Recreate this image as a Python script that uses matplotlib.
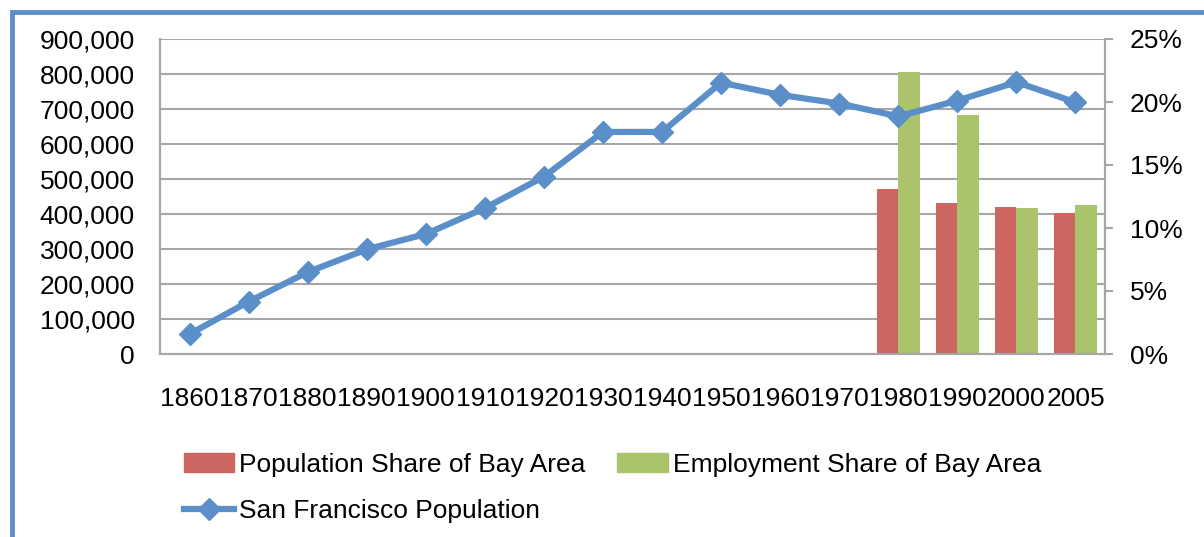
import matplotlib.pyplot as plt
from matplotlib.patches import Patch, Rectangle
from matplotlib.lines import Line2D
from matplotlib.ticker import FuncFormatter
import numpy as np

plt.rcParams['font.family'] = ['Liberation Sans', 'DejaVu Sans']

# data
years = ['1860', '1870', '1880', '1890', '1900', '1910', '1920', '1930',
         '1940', '1950', '1960', '1970', '1980', '1990', '2000', '2005']
sf_pop = [56802, 149473, 233959, 298997, 342782, 416912, 506676, 634394,
          634536, 775357, 740316, 715674, 678974, 723959, 776733, 719077]
share_years = ['1980', '1990', '2000', '2005']
pop_share = [13.07, 11.98, 11.64, 11.16]
emp_share = [22.4, 18.96, 11.58, 11.82]

c_red = '#CD6660'
c_green = '#A9C46A'
c_blue = '#5B8FC9'
c_grid = '#A6A6A6'
fs = 19

fig = plt.figure(figsize=(12.04, 5.37), dpi=100)
ax = fig.add_axes([160/1204, 1-354/537, 945/1204, 315/537])
ax2 = ax.twinx()

x = np.arange(len(years))
idx = np.array([years.index(y) for y in share_years])
w = 0.366
ax2.bar(idx - w/2, pop_share, width=w, color=c_red, zorder=2)
ax2.bar(idx + w/2, emp_share, width=w, color=c_green, zorder=2)

ax.plot(x, sf_pop, color=c_blue, lw=4.5, marker='D', ms=11, zorder=5)

ax.set_zorder(ax2.get_zorder() + 1)
ax.patch.set_visible(False)
ax2.patch.set_visible(True)
ax2.patch.set_facecolor('white')

ax.set_xlim(-0.5, len(years) - 0.5)
ax.set_ylim(0, 900000)
ax.set_yticks(np.arange(0, 900001, 100000))
ax.yaxis.set_major_formatter(FuncFormatter(lambda v, p: f'{int(v):,}'))
ax2.set_ylim(0, 25)
ax2.set_yticks(np.arange(0, 26, 5))
ax2.yaxis.set_major_formatter(FuncFormatter(lambda v, p: f'{int(v)}%'))

ax.set_xticks(x)
ax.set_xticklabels(years)

# gridlines drawn on the back axes so bars sit over them
for v in np.arange(100000, 900001, 100000):
    ax2.axhline(v / 900000 * 25, color=c_grid, lw=1.5, zorder=1)

for a in (ax, ax2):
    for s in a.spines.values():
        s.set_color(c_grid)
        s.set_linewidth(1.5)
    a.spines['top'].set_visible(False)

ax.tick_params(axis='y', length=0, pad=18, labelsize=fs)
ax.tick_params(axis='x', length=0, pad=24, labelsize=fs)
ax2.tick_params(axis='y', length=6, width=1.5, color=c_grid, direction='out',
                pad=12, labelsize=fs)

handles = [Patch(color=c_red),
           Line2D([], [], color=c_blue, lw=4.5, marker='D', ms=11),
           Patch(color=c_green)]
labels = ['Population Share of Bay Area', 'San Francisco Population',
          'Employment Share of Bay Area']
fig.legend(handles, labels, ncol=2, loc='upper left',
           bbox_to_anchor=(184/1204, 1-453/537), frameon=False, fontsize=fs,
           handlelength=1.9, handleheight=0.75, handletextpad=0.2,
           columnspacing=1.2, labelspacing=0.85, borderpad=0, borderaxespad=0)

# blue chart frame (cropped at right and bottom)
fig.add_artist(Rectangle((12/1204, -0.2), 1.5, 1.2 - 12/537,
                         transform=fig.transFigure, fill=False,
                         edgecolor=c_blue, lw=3.5))

fig.savefig('out.png', dpi=100)
